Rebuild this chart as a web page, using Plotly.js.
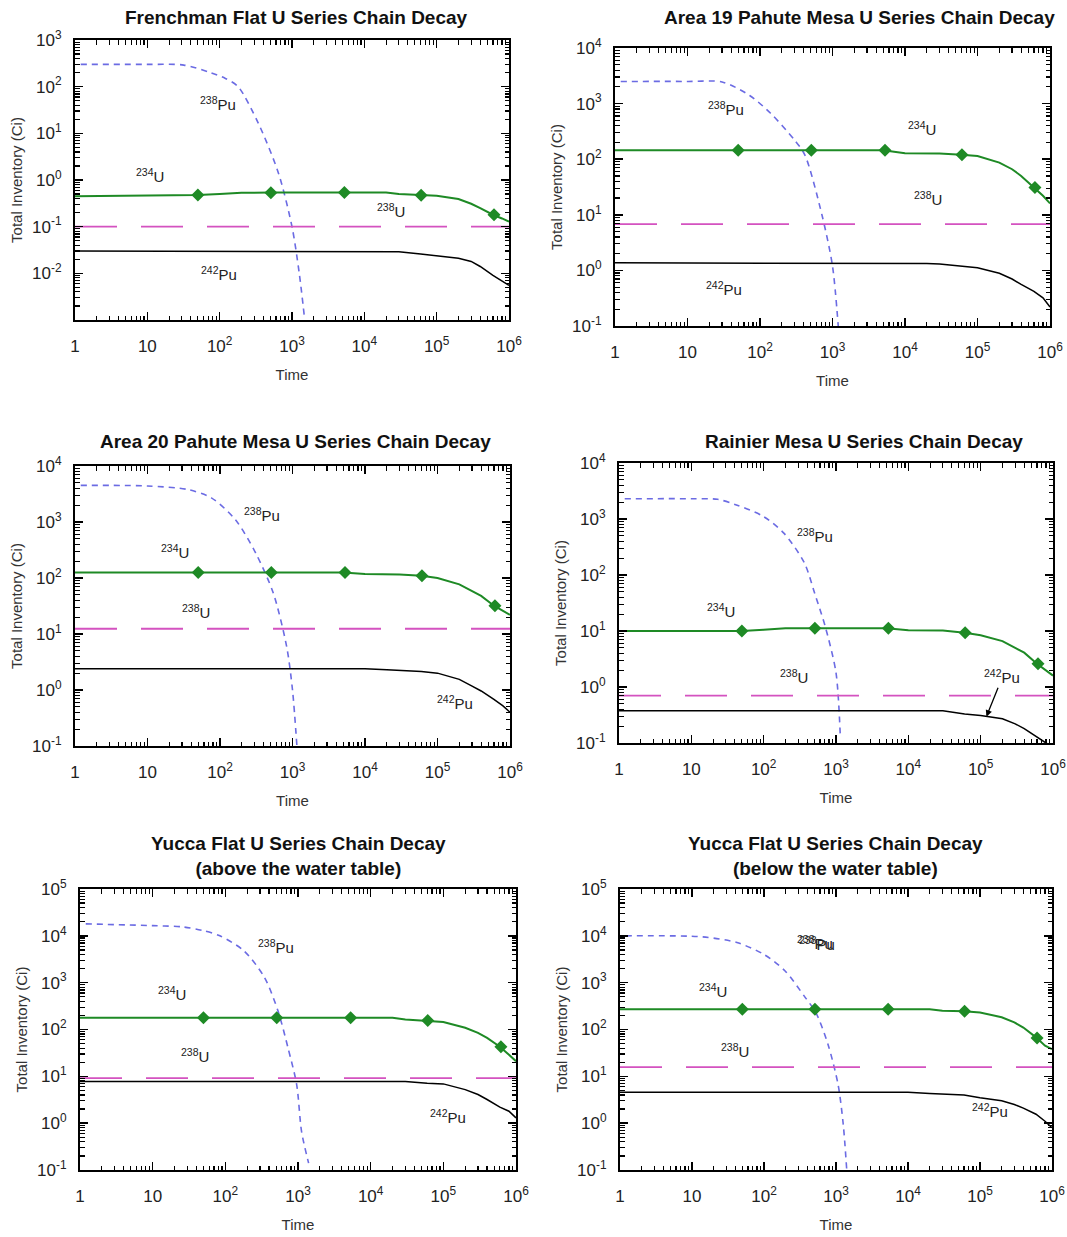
<!DOCTYPE html>
<html><head><meta charset="utf-8">
<script src="https://cdn.plot.ly/plotly-3.0.1.min.js"></script>
<style>html,body{margin:0;padding:0;background:#fff}#chart{width:1067px;height:1237px}</style>
</head><body><div id="chart"></div>
<script>
// ---------- data ----------
const panelTitles = [
  "Frenchman Flat U Series Chain Decay",
  "Area 19 Pahute Mesa U Series Chain Decay",
  "Area 20 Pahute Mesa U Series Chain Decay",
  "Rainier Mesa U Series Chain Decay",
  "Yucca Flat U Series Chain Decay<br>(above the water table)",
  "Yucca Flat U Series Chain Decay<br>(below the water table)"
];
const xTickVals = [1, 10, 100, 1000, 10000, 100000, 1000000];
const xTickText = ["1", "10", "10<sup>2</sup>", "10<sup>3</sup>", "10<sup>4</sup>", "10<sup>5</sup>", "10<sup>6</sup>"];

// time grid for 234U and 242Pu curves
const tLong = [1, 10, 50, 100, 200, 500, 1000, 5000, 10000, 20000, 30000, 60000, 100000, 200000, 300000, 400000, 600000, 800000, 1000000];
// times of the diamond markers on 234U
const tDiamond = [50, 510, 5300, 61000, 620000];
const tFlat = [1, 1000000];

// Frenchman Flat
const ff_pu238_t = [1.2, 10, 32, 75, 120, 180, 345, 650, 1000, 1260, 1480];
const ff_pu238_v = [300, 300, 290, 200, 150, 100, 16, 1.4, 0.1, 0.01, 0.0012];
const ff_u234 = [0.45, 0.46, 0.48, 0.5, 0.53, 0.54, 0.54, 0.54, 0.54, 0.54, 0.5, 0.48, 0.46, 0.39, 0.31, 0.25, 0.18, 0.15, 0.128];
const ff_u234_d = [0.48, 0.53, 0.54, 0.47, 0.18];
const ff_u238 = [0.1, 0.1];
const ff_pu242 = [0.03, 0.03, 0.03, 0.03, 0.03, 0.03, 0.03, 0.03, 0.03, 0.03, 0.029, 0.026, 0.024, 0.021, 0.018, 0.014, 0.009, 0.0068, 0.0055];

// Area 19 Pahute Mesa
const a19_pu238_t = [1.2, 10, 30, 72, 140, 300, 415, 720, 1000, 1200];
const a19_pu238_v = [2500, 2500, 2450, 1400, 670, 220, 120, 9.6, 1.2, 0.1];
const a19_u234 = [145, 145, 145, 145, 145, 145, 145, 145, 128, 128, 127, 120, 114, 87, 66, 50, 31, 22, 16];
const a19_u234_d = [145, 145, 145, 120, 31];
const a19_u238 = [6.8, 6.8];
const a19_pu242 = [1.37, 1.37, 1.37, 1.37, 1.37, 1.37, 1.37, 1.37, 1.37, 1.33, 1.3, 1.2, 1.12, 0.89, 0.7, 0.56, 0.42, 0.32, 0.22];

// Area 20 Pahute Mesa
const a20_pu238_t = [1.2, 10, 36, 76, 163, 310, 540, 830, 1000, 1150];
const a20_pu238_v = [4500, 4400, 3800, 2700, 1100, 280, 55, 6, 1.0, 0.1];
const a20_u234 = [125, 125, 125, 125, 125, 125, 125, 125, 118, 117, 115, 110, 100, 77, 59, 48, 32, 26, 22];
const a20_u234_d = [125, 125, 125, 110, 32];
const a20_u238 = [12.4, 12.4];
const a20_pu242 = [2.4, 2.4, 2.4, 2.4, 2.4, 2.4, 2.4, 2.4, 2.4, 2.3, 2.25, 2.15, 2.0, 1.55, 1.17, 0.96, 0.68, 0.52, 0.4];

// Rainier Mesa
const rm_pu238_t = [1.2, 10, 23, 41, 98, 190, 365, 505, 710, 1000, 1150];
const rm_pu238_v = [2300, 2300, 2250, 1800, 1120, 560, 165, 48, 12, 1.8, 0.12];
const rm_u234 = [10.0, 10.0, 10.0, 10.5, 11.2, 11.2, 11.2, 11.2, 10.3, 10.3, 10.2, 9.3, 8.4, 6.6, 5.0, 4.1, 2.6, 1.95, 1.6];
const rm_u234_d = [10.0, 11.2, 11.2, 9.3, 2.6];
const rm_u238 = [0.7, 0.7];
const rm_pu242 = [0.377, 0.377, 0.377, 0.377, 0.377, 0.377, 0.377, 0.377, 0.377, 0.377, 0.377, 0.33, 0.31, 0.27, 0.22, 0.18, 0.126, 0.1, 0.085];

// Yucca Flat (above the water table)
const ya_pu238_t = [1.2, 10, 26, 49, 84, 180, 345, 530, 730, 960, 1120, 1400];
const ya_pu238_v = [18000, 16500, 15500, 13000, 10000, 4800, 1300, 250, 40, 6.6, 0.66, 0.14];
const ya_u234 = [178, 178, 178, 178, 178, 178, 178, 178, 178, 178, 163, 155, 145, 109, 85, 66, 43, 29, 21];
const ya_u234_d = [178, 178, 178, 155, 43];
const ya_u238 = [9.2, 9.2];
const ya_pu242 = [7.8, 7.8, 7.8, 7.8, 7.8, 7.8, 7.8, 7.8, 7.8, 7.8, 7.8, 7.1, 6.9, 5.2, 4.1, 3.2, 2.2, 1.8, 1.3];

// Yucca Flat (below the water table)
const yb_pu238_t = [1.2, 14, 42, 100, 195, 375, 525, 775, 1070, 1260, 1410];
const yb_pu238_v = [10000, 9500, 7200, 4000, 1800, 480, 230, 48, 6.6, 0.95, 0.1];
const yb_u234 = [270, 270, 270, 270, 270, 270, 270, 270, 270, 270, 250, 245, 230, 183, 142, 110, 68, 45, 38];
const yb_u234_d = [270, 270, 270, 245, 66];
const yb_u238 = [15.8, 15.8];
const yb_pu242 = [4.6, 4.6, 4.6, 4.6, 4.6, 4.6, 4.6, 4.6, 4.6, 4.3, 4.2, 4.0, 3.5, 3.0, 2.5, 2.1, 1.55, 1.1, 0.8];

const panels = [
  {pt: ff_pu238_t, pv: ff_pu238_v, u234: ff_u234, u234d: ff_u234_d, u238: ff_u238, pu242: ff_pu242},
  {pt: a19_pu238_t, pv: a19_pu238_v, u234: a19_u234, u234d: a19_u234_d, u238: a19_u238, pu242: a19_pu242},
  {pt: a20_pu238_t, pv: a20_pu238_v, u234: a20_u234, u234d: a20_u234_d, u238: a20_u238, pu242: a20_pu242},
  {pt: rm_pu238_t, pv: rm_pu238_v, u234: rm_u234, u234d: rm_u234_d, u238: rm_u238, pu242: rm_pu242},
  {pt: ya_pu238_t, pv: ya_pu238_v, u234: ya_u234, u234d: ya_u234_d, u238: ya_u238, pu242: ya_pu242},
  {pt: yb_pu238_t, pv: yb_pu238_v, u234: yb_u234, u234d: yb_u234_d, u238: yb_u238, pu242: yb_pu242}
];

// ---------- layout / styling ----------
const W = 1067, H = 1237;
const FONT = "Liberation Sans, Arial, sans-serif";
// plot boxes in pixels [left, right, top, bottom]
const boxes = [
  [75, 509, 40, 320],
  [615, 1050, 48, 326],
  [75, 510, 466, 746],
  [619, 1053, 463, 743],
  [80, 516, 889, 1170],
  [620, 1052, 889, 1170]
];
const yRanges = [[-3, 3], [-1, 4], [-1, 4], [-1, 4], [-1, 5], [-1, 5]];
const titleCenters = [[296, 17], [859, 17], [295, 441], [864, 441], [298, 856], [835, 856]];

const C_PU238 = "#6b6be3", C_U234 = "#1e8a25", C_U238 = "#d452c0", C_PU242 = "#000000";

const traces = [];
const layout = {
  width: W, height: H, margin: {l: 0, r: 0, t: 0, b: 0},
  paper_bgcolor: "#fff", plot_bgcolor: "#fff", showlegend: false,
  font: {family: FONT, color: "#222"}, annotations: []
};

panels.forEach((p, i) => {
  const n = i + 1, sx = n === 1 ? "" : String(n);
  const xa = "x" + sx, ya = "y" + sx;
  traces.push({x: p.pt, y: p.pv, xaxis: xa, yaxis: ya, mode: "lines", line: {color: C_PU238, width: 1.6, dash: "6px,5px", shape: "spline", smoothing: 0.8}});
  traces.push({x: tFlat, y: p.u238, xaxis: xa, yaxis: ya, mode: "lines", line: {color: C_U238, width: 1.8, dash: "42px,24px"}});
  traces.push({x: tLong, y: p.pu242, xaxis: xa, yaxis: ya, mode: "lines", line: {color: C_PU242, width: 1.5}});
  traces.push({x: tLong, y: p.u234, xaxis: xa, yaxis: ya, mode: "lines", line: {color: C_U234, width: 2}});
  traces.push({x: tDiamond, y: p.u234d, xaxis: xa, yaxis: ya, mode: "markers", marker: {symbol: "diamond", size: 10, color: C_U234}});

  const b = boxes[i];
  const yr = yRanges[i];
  const yVals = [], yText = [];
  for (let e = yr[0]; e <= yr[1]; e++) {
    if (i === 0 && e === -3) continue;
    yVals.push(Math.pow(10, e)); yText.push("10<sup>" + e + "</sup>");
  }
  const common = {
    type: "log", showline: true, linewidth: 2, linecolor: "#000", mirror: "allticks",
    ticks: "inside", ticklen: 8, tickwidth: 1.5, tickcolor: "#000", showgrid: false, zeroline: false,
    minor: {ticks: "inside", ticklen: 4.5, tickwidth: 1.2, tickcolor: "#000", dtick: "D1", showgrid: false},
    tickfont: {family: FONT, size: 17, color: "#222"}, tickmode: "array"
  };
  layout["xaxis" + sx] = Object.assign({}, common, {
    domain: [b[0] / W, b[1] / W], anchor: ya, range: [0, 6],
    tickvals: xTickVals, ticktext: xTickText, ticklabelstandoff: 10,
    title: {text: "Time", font: {family: FONT, size: 15, color: "#333"}, standoff: 14}
  });
  layout["yaxis" + sx] = Object.assign({}, common, {
    domain: [1 - b[3] / H, 1 - b[2] / H], anchor: xa, range: yr,
    tickvals: yVals, ticktext: yText, ticklabelstandoff: 8,
    title: {text: "Total Inventory (Ci)", font: {family: FONT, size: 15, color: "#333"}, standoff: 6}
  });
  const tc = titleCenters[i];
  layout.annotations.push({xref: "paper", yref: "paper", x: tc[0] / W, y: 1 - tc[1] / H, xanchor: "center", yanchor: "middle",
    text: "<b>" + panelTitles[i] + "</b>", showarrow: false, font: {family: FONT, size: 19, color: "#111"}});
});

// isotope labels (positions in log10 axis units)
const labelFont = {family: FONT, size: 15, color: "#222"};
const labels = [
  [1, "<sup>238</sup>Pu", 1.97, 1.65], [1, "<sup>234</sup>U", 1.04, 0.10], [1, "<sup>238</sup>U", 4.37, -0.66], [1, "<sup>242</sup>Pu", 1.99, -2.01],
  [2, "<sup>238</sup>Pu", 1.53, 2.92], [2, "<sup>234</sup>U", 4.23, 2.56], [2, "<sup>238</sup>U", 4.32, 1.30], [2, "<sup>242</sup>Pu", 1.50, -0.32],
  [3, "<sup>238</sup>Pu", 2.58, 3.14], [3, "<sup>234</sup>U", 1.38, 2.48], [3, "<sup>238</sup>U", 1.67, 1.41], [3, "<sup>242</sup>Pu", 5.24, -0.23],
  [4, "<sup>238</sup>Pu", 2.71, 2.71], [4, "<sup>234</sup>U", 1.41, 1.36], [4, "<sup>238</sup>U", 2.42, 0.18],
  [5, "<sup>238</sup>Pu", 2.70, 3.78], [5, "<sup>234</sup>U", 1.27, 2.76], [5, "<sup>238</sup>U", 1.58, 1.45], [5, "<sup>242</sup>Pu", 5.06, 0.15],
  [6, "<sup>238</sup>Pu", 2.71, 3.85], [6, "<sup>238</sup>Pu", 2.73, 3.83], [6, "<sup>234</sup>U", 1.29, 2.84], [6, "<sup>238</sup>U", 1.60, 1.56], [6, "<sup>242</sup>Pu", 5.14, 0.26]
];
labels.forEach(l => {
  const sx = l[0] === 1 ? "" : String(l[0]);
  layout.annotations.push({xref: "x" + sx, yref: "y" + sx, x: l[2], y: l[3], text: l[1], showarrow: false, font: labelFont});
});
// 242Pu label with arrow (Rainier Mesa)
layout.annotations.push({xref: "x4", yref: "y4", x: 5.08, y: -0.53, text: "<sup>242</sup>Pu", showarrow: true,
  arrowhead: 2, arrowsize: 1, arrowwidth: 1.3, arrowcolor: "#000", ax: 16, ay: -40, font: labelFont});

Plotly.newPlot("chart", traces, layout, {staticPlot: true, displayModeBar: false});
</script>
</body></html>
